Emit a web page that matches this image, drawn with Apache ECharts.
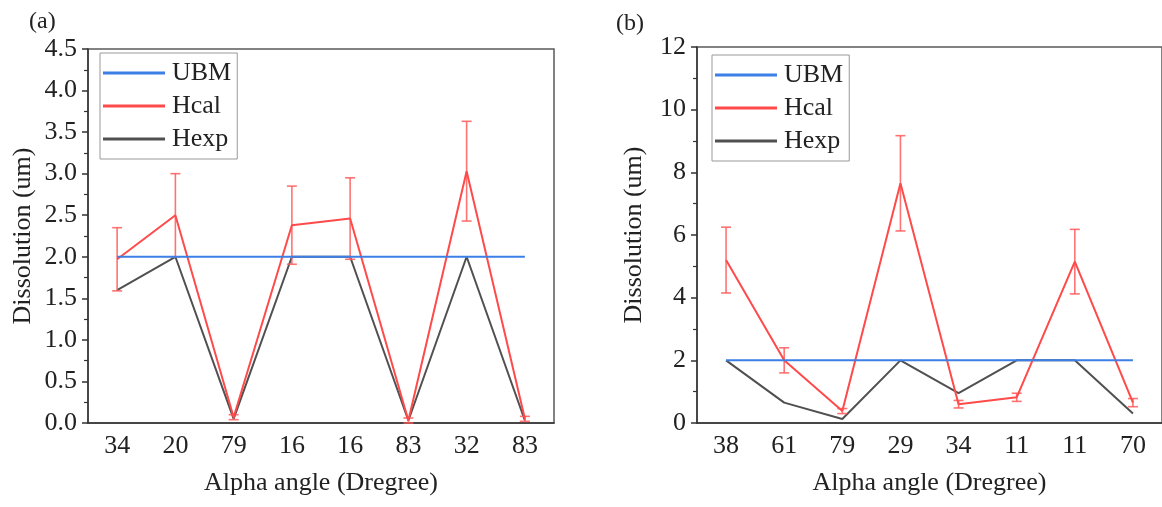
<!DOCTYPE html>
<html>
<head>
<meta charset="utf-8">
<script src="https://cdn.jsdelivr.net/npm/echarts@6/dist/echarts.min.js"></script>
<style>
  html, body { margin: 0; padding: 0; background: #fff; }
  #chart { width: 1162px; height: 507px; }
</style>
</head>
<body>
<div id="chart"></div>
<script>
// panel (a)
const anglesA = ['34', '20', '79', '16', '16', '83', '32', '83'];
const ubmA = [2, 2, 2, 2, 2, 2, 2, 2];
const hcalA = [1.97, 2.5, 0.07, 2.38, 2.46, 0.03, 3.03, 0.05];
const hcalErrA = [0.38, 0.5, 0.03, 0.47, 0.49, 0.03, 0.6, 0.03];
const hexpA = [1.6, 2.0, 0.05, 2.0, 2.0, 0.03, 2.0, 0.03];

// panel (b)
const anglesB = ['38', '61', '79', '29', '34', '11', '11', '70'];
const ubmB = [2, 2, 2, 2, 2, 2, 2, 2];
const hcalB = [5.2, 2.0, 0.38, 7.65, 0.6, 0.82, 5.15, 0.65];
const hcalErrB = [1.05, 0.4, 0.08, 1.52, 0.12, 0.13, 1.03, 0.13];
const hexpB = [2.0, 0.65, 0.13, 2.0, 0.95, 2.0, 2.0, 0.3];

const FONT = 'Liberation Serif';
const C_UBM = '#3c7fe6';
const C_HCAL = '#ff4a4a';
const C_HEXP = '#505050';

const chart = echarts.init(document.getElementById('chart'));

function errData(vals, errs) {
    return vals.map((v, i) => [i, v - errs[i], v + errs[i]]);
}

function errorBars(idx, vals, errs) {
    return {
        type: 'custom',
        xAxisIndex: idx * 2,
        yAxisIndex: idx,
        z: 3,
        silent: true,
        data: errData(vals, errs),
        renderItem: function (params, api) {
            const lo = api.coord([api.value(0), api.value(1)]);
            const hi = api.coord([api.value(0), api.value(2)]);
            const w = 5;
            const st = { stroke: '#ff5a5a', lineWidth: 1.6, opacity: 0.85 };
            return {
                type: 'group',
                children: [
                    { type: 'line', shape: { x1: lo[0], y1: lo[1], x2: hi[0], y2: hi[1] }, style: st },
                    { type: 'line', shape: { x1: lo[0] - w, y1: lo[1], x2: lo[0] + w, y2: lo[1] }, style: st },
                    { type: 'line', shape: { x1: hi[0] - w, y1: hi[1], x2: hi[0] + w, y2: hi[1] }, style: st }
                ]
            };
        }
    };
}

function lineSeries(name, idx, data, color, z) {
    return {
        name: name,
        type: 'line',
        xAxisIndex: idx * 2,
        yAxisIndex: idx,
        data: data,
        showSymbol: false,
        z: z,
        lineStyle: { color: color, width: 2 },
        itemStyle: { color: color }
    };
}

function catAxis(idx, cats) {
    return [{
        type: 'category',
        gridIndex: idx,
        data: cats,
        position: 'bottom',
        name: 'Alpha angle (Dregree)',
        nameLocation: 'middle',
        nameGap: 47,
        nameTextStyle: { fontFamily: FONT, fontSize: 26, color: '#222' },
        axisLine: { lineStyle: { color: '#333', width: 1.5 } },
        axisTick: { alignWithLabel: true, length: 6, lineStyle: { color: '#333', width: 1.5 } },
        axisLabel: { fontFamily: FONT, fontSize: 26, color: '#222', margin: 10 },
        splitLine: { show: false }
    }, {
        // boundary (minor) ticks
        type: 'category',
        gridIndex: idx,
        data: cats,
        position: 'bottom',
        axisLine: { show: false },
        axisTick: { length: 4, lineStyle: { color: '#333', width: 1.5 } },
        axisLabel: { show: false },
        splitLine: { show: false }
    }];
}

function valAxis(idx, max, interval, digits, gap) {
    return {
        type: 'value',
        gridIndex: idx,
        min: 0,
        max: max,
        interval: interval,
        name: 'Dissolution (um)',
        nameLocation: 'middle',
        nameGap: gap,
        nameTextStyle: { fontFamily: FONT, fontSize: 26, color: '#222' },
        axisLine: { show: true, lineStyle: { color: '#333', width: 1.5 } },
        axisTick: { show: true, length: 6, lineStyle: { color: '#333', width: 1.5 } },
        minorTick: { show: true, splitNumber: 2, length: 4, lineStyle: { color: '#333', width: 1.2 } },
        axisLabel: {
            fontFamily: FONT, fontSize: 26, color: '#222', margin: 11,
            formatter: v => v.toFixed(digits)
        },
        splitLine: { show: false }
    };
}

function legendBox(left, top) {
    return {
        orient: 'vertical',
        left: left,
        top: top,
        itemWidth: 62,
        itemHeight: 3,
        itemGap: 7,
        icon: 'rect',
        borderColor: '#999',
        borderWidth: 1,
        padding: [7, 6, 7, 3],
        textStyle: { fontFamily: FONT, fontSize: 26, color: '#222', padding: [0, 0, 0, 2] },
        data: ['UBM', 'Hcal', 'Hexp']
    };
}

chart.setOption({
    animation: false,
    backgroundColor: '#fff',
    title: [
        { text: '(a)', left: 24, top: 5, textStyle: { fontFamily: FONT, fontSize: 24, fontWeight: 'normal', color: '#222' } },
        { text: '(b)', left: 611, top: 7, textStyle: { fontFamily: FONT, fontSize: 24, fontWeight: 'normal', color: '#222' } }
    ],
    legend: [legendBox(100, 53), legendBox(712, 55)],
    grid: [
        { left: 88, top: 49, right: 608, bottom: 84, show: true, borderColor: '#5a5a5a', borderWidth: 1.5 },
        { left: 697, top: 47, right: -3, bottom: 84, show: true, borderColor: '#5a5a5a', borderWidth: 1.5 }
    ],
    xAxis: catAxis(0, anglesA).concat(catAxis(1, anglesB)),
    yAxis: [valAxis(0, 4.5, 0.5, 1, 52), valAxis(1, 12, 2, 0, 50)],
    series: [
        lineSeries('Hexp', 0, hexpA, C_HEXP, 2),
        lineSeries('Hcal', 0, hcalA, C_HCAL, 3),
        errorBars(0, hcalA, hcalErrA),
        lineSeries('UBM', 0, ubmA, C_UBM, 4),
        lineSeries('Hexp', 1, hexpB, C_HEXP, 2),
        lineSeries('Hcal', 1, hcalB, C_HCAL, 3),
        errorBars(1, hcalB, hcalErrB),
        lineSeries('UBM', 1, ubmB, C_UBM, 4)
    ]
});
</script>
</body>
</html>
